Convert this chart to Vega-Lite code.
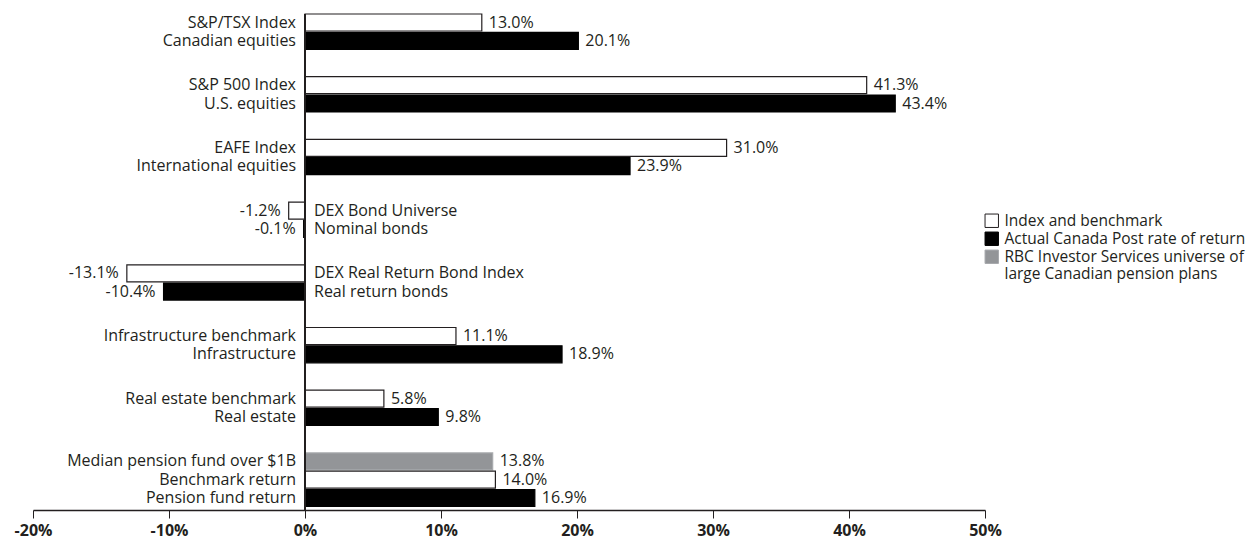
{
  "$schema": "https://vega.github.io/schema/vega-lite/v6.json",
  "autosize": {"type": "none"},
  "padding": {"left": 33, "top": 14, "right": 266, "bottom": 28},
  "width": 952,
  "height": 496,
  "background": "white",
  "config": {
    "view": {"stroke": null},
    "locale": {"number": {"decimal": ".", "thousands": ",", "grouping": [3], "currency": ["$", ""], "minus": "-"}},
    "text": {"font": "Open Sans", "fontSize": 16, "color": "#231f20"}
  },
  "data": {
    "values": [
      {"group": "Canadian equities", "slot": "a", "series": "Index and benchmark", "label": "S&P/TSX Index", "value": 0.130},
      {"group": "Canadian equities", "slot": "b", "series": "Actual Canada Post rate of return", "label": "Canadian equities", "value": 0.201},
      {"group": "U.S. equities", "slot": "a", "series": "Index and benchmark", "label": "S&P 500 Index", "value": 0.413},
      {"group": "U.S. equities", "slot": "b", "series": "Actual Canada Post rate of return", "label": "U.S. equities", "value": 0.434},
      {"group": "International equities", "slot": "a", "series": "Index and benchmark", "label": "EAFE Index", "value": 0.310},
      {"group": "International equities", "slot": "b", "series": "Actual Canada Post rate of return", "label": "International equities", "value": 0.239},
      {"group": "Nominal bonds", "slot": "a", "series": "Index and benchmark", "label": "DEX Bond Universe", "value": -0.012},
      {"group": "Nominal bonds", "slot": "b", "series": "Actual Canada Post rate of return", "label": "Nominal bonds", "value": -0.001},
      {"group": "Real return bonds", "slot": "a", "series": "Index and benchmark", "label": "DEX Real Return Bond Index", "value": -0.131},
      {"group": "Real return bonds", "slot": "b", "series": "Actual Canada Post rate of return", "label": "Real return bonds", "value": -0.104},
      {"group": "Infrastructure", "slot": "a", "series": "Index and benchmark", "label": "Infrastructure benchmark", "value": 0.111},
      {"group": "Infrastructure", "slot": "b", "series": "Actual Canada Post rate of return", "label": "Infrastructure", "value": 0.189},
      {"group": "Real estate", "slot": "a", "series": "Index and benchmark", "label": "Real estate benchmark", "value": 0.058},
      {"group": "Real estate", "slot": "b", "series": "Actual Canada Post rate of return", "label": "Real estate", "value": 0.098},
      {"group": "Pension fund", "slot": "a", "series": "RBC Investor Services universe of large Canadian pension plans", "label": "Median pension fund over $1B", "value": 0.138},
      {"group": "Pension fund", "slot": "b", "series": "Index and benchmark", "label": "Benchmark return", "value": 0.140},
      {"group": "Pension fund", "slot": "c", "series": "Actual Canada Post rate of return", "label": "Pension fund return", "value": 0.169}
    ]
  },
  "encoding": {
    "y": {"field": "group", "type": "nominal", "sort": null, "axis": null,
          "scale": {"range": [0, 501.6], "paddingInner": 0, "paddingOuter": 0}},
    "yOffset": {"field": "slot", "type": "nominal",
                "scale": {"domain": ["a", "b", "c"], "paddingInner": 0.07, "paddingOuter": 0.248, "align": 0}}
  },
  "layer": [
    {
      "mark": {"type": "bar", "strokeWidth": 1.2},
      "encoding": {
        "x": {"field": "value", "type": "quantitative",
              "scale": {"domain": [-0.2, 0.5], "nice": false},
              "axis": {"values": [-0.2, -0.1, 0, 0.1, 0.2, 0.3, 0.4, 0.5], "format": ".0%", "title": null, "grid": false,
                       "labelFont": "Open Sans", "labelFontWeight": "bold", "labelFontSize": 16, "labelColor": "#231f20",
                       "domainColor": "#231f20", "domainWidth": 1.5, "tickColor": "#231f20", "tickSize": 8, "tickWidth": 1,
                       "labelPadding": 4, "labelFlush": false, "labelOverlap": false}},
        "fill": {"field": "series", "type": "nominal",
                 "scale": {"domain": ["Index and benchmark", "Actual Canada Post rate of return", "RBC Investor Services universe of large Canadian pension plans"],
                           "range": ["#ffffff", "#000000", "#939598"]},
                 "legend": {"orient": "none", "legendX": 951, "legendY": 199, "title": null, "symbolType": "square", "symbolSize": 180,
                            "symbolStrokeWidth": 1, "labelFont": "Open Sans", "labelFontSize": 15.5, "labelColor": "#231f20",
                            "rowPadding": 0, "labelOffset": 5, "labelLimit": 400,
                            "labelExpr": "datum.label == 'RBC Investor Services universe of large Canadian pension plans' ? ['RBC Investor Services universe of', 'large Canadian pension plans'] : datum.label"}},
        "stroke": {"field": "series", "type": "nominal",
                   "scale": {"domain": ["Index and benchmark", "Actual Canada Post rate of return", "RBC Investor Services universe of large Canadian pension plans"],
                             "range": ["#231f20", "#000000", "#a7a9ac"]},
                   "legend": {"orient": "none", "legendX": 951, "legendY": 199, "title": null, "symbolType": "square", "symbolSize": 180,
                              "symbolStrokeWidth": 1, "labelFont": "Open Sans", "labelFontSize": 15.5, "labelColor": "#231f20",
                              "rowPadding": 0, "labelOffset": 5, "labelLimit": 400,
                              "labelExpr": "datum.label == 'RBC Investor Services universe of large Canadian pension plans' ? ['RBC Investor Services universe of', 'large Canadian pension plans'] : datum.label"}}
      }
    },
    {
      "mark": {"type": "rule", "color": "#231f20", "strokeWidth": 1.3},
      "encoding": {"x": {"datum": 0}, "y": null, "yOffset": null}
    },
    {
      "transform": [{"filter": "datum.value >= 0"}],
      "mark": {"type": "text", "align": "right", "dx": -9},
      "encoding": {"x": {"datum": 0}, "text": {"field": "label"}}
    },
    {
      "transform": [{"filter": "datum.value < 0"}],
      "mark": {"type": "text", "align": "left", "dx": 9},
      "encoding": {"x": {"datum": 0}, "text": {"field": "label"}}
    },
    {
      "transform": [{"filter": "datum.value >= 0"}],
      "mark": {"type": "text", "align": "left", "dx": 7},
      "encoding": {"x": {"field": "value", "type": "quantitative"}, "text": {"field": "value", "type": "quantitative", "format": ".1%"}}
    },
    {
      "transform": [{"filter": "datum.value < 0"}],
      "mark": {"type": "text", "align": "right", "dx": -8},
      "encoding": {"x": {"field": "value", "type": "quantitative"}, "text": {"field": "value", "type": "quantitative", "format": ".1%"}}
    }
  ]
}
